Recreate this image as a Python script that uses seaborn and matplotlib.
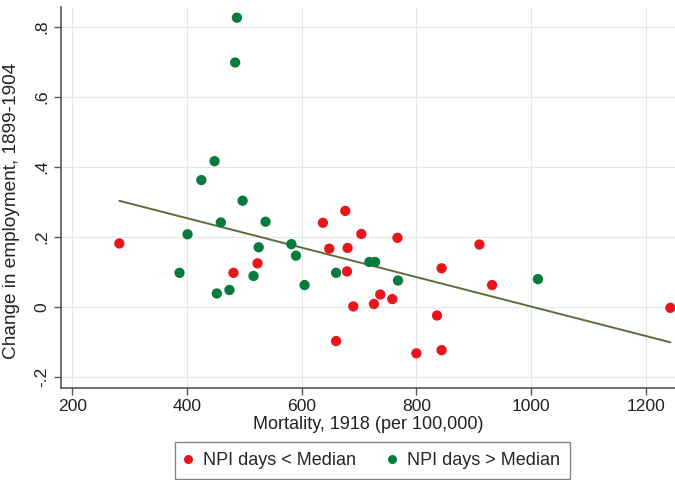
import numpy as np
import pandas as pd
import matplotlib
matplotlib.use("Agg")
import matplotlib.pyplot as plt
import seaborn as sns
from matplotlib.lines import Line2D

# Cities with fewer NPI days than the median
low_mortality = [282, 481, 523, 637, 648, 676, 680, 679, 704, 767, 660, 690,
                 726, 737, 758, 800, 844, 836, 844, 910, 932, 1243]
low_change = [0.182, 0.098, 0.125, 0.241, 0.167, 0.275, 0.169, 0.102, 0.209,
              0.198, -0.097, 0.002, 0.009, 0.036, 0.023, -0.132, -0.123,
              -0.024, 0.111, 0.179, 0.063, -0.002]

# Cities with more NPI days than the median
high_mortality = [487, 484, 448, 425, 497, 459, 537, 401, 387, 452, 474, 516,
                  525, 582, 590, 605, 660, 718, 728, 768, 1012]
high_change = [0.827, 0.699, 0.417, 0.363, 0.304, 0.242, 0.244, 0.208, 0.098,
               0.039, 0.049, 0.089, 0.171, 0.180, 0.147, 0.063, 0.098, 0.129,
               0.129, 0.076, 0.080]

group_labels = ["NPI days < Median", "NPI days > Median"]
x_ticks = [200, 400, 600, 800, 1000, 1200]
y_ticks = [-0.2, 0, 0.2, 0.4, 0.6, 0.8]
y_tick_labels = ["-.2", "0", ".2", ".4", ".6", ".8"]

RED = "#e8161b"
GREEN = "#097a3d"
LINE = "#5b6e3c"

df = pd.DataFrame({
    "mortality": low_mortality + high_mortality,
    "change": low_change + high_change,
    "group": [group_labels[0]] * len(low_mortality) + [group_labels[1]] * len(high_mortality),
})

sns.set_theme(style="white")
plt.rcParams["font.family"] = ["Liberation Sans", "DejaVu Sans"]

fig = plt.figure(figsize=(6.75, 4.8), dpi=100)
ax = fig.add_axes([0.091, 0.191, 0.909, 0.794])

# Linear fit over all cities
sns.regplot(data=df, x="mortality", y="change", scatter=False, ci=None,
            color=LINE, line_kws={"linewidth": 1.4, "zorder": 2}, ax=ax)

sns.scatterplot(data=df, x="mortality", y="change", hue="group",
                hue_order=group_labels, palette=[RED, GREEN], s=55,
                linewidth=0, legend=False, ax=ax, zorder=3)

ax.set_xlim(181, 1251)
ax.set_ylim(-0.232, 0.857)
ax.set_xticks(x_ticks)
ax.set_yticks(y_ticks)
ax.set_yticklabels(y_tick_labels, rotation=90, va="center")
ax.tick_params(axis="both", labelsize=12.6, colors="#222222", length=5,
               width=1, direction="out", bottom=True, left=True, color="#555555")
ax.tick_params(axis="y", pad=4)
ax.tick_params(axis="x", pad=3)

ax.grid(True, color="#e6e6e6", linewidth=0.8)
ax.set_axisbelow(True)
for side in ["top", "right"]:
    ax.spines[side].set_visible(False)
for side in ["left", "bottom"]:
    ax.spines[side].set_color("#555555")
    ax.spines[side].set_linewidth(1.2)

ax.set_xlabel("Mortality, 1918 (per 100,000)", fontsize=13, color="#222222", labelpad=1)
ax.set_ylabel("Change in employment, 1899-1904", fontsize=13.7, color="#222222")
ax.yaxis.set_label_coords(-0.067, 0.465)

handles = [Line2D([0], [0], marker="o", linestyle="", markersize=6.5,
                  markerfacecolor=c, markeredgewidth=0) for c in (RED, GREEN)]
leg = fig.legend(handles, group_labels, loc="center", bbox_to_anchor=(0.552, 0.041),
                 ncol=2, fontsize=13, frameon=True, fancybox=False,
                 handletextpad=0.7, columnspacing=1.8, borderpad=0.55,
                 handlelength=0.3)
leg.get_frame().set_edgecolor("#666666")
leg.get_frame().set_linewidth(1.0)

fig.savefig("out.png", dpi=100)
